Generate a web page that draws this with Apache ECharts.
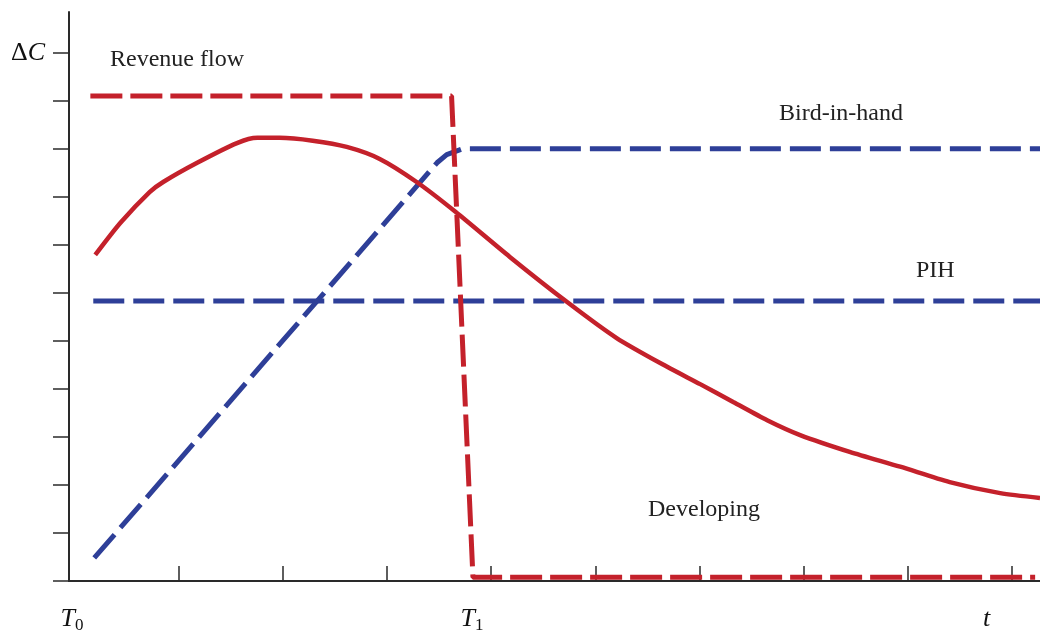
<!DOCTYPE html>
<html>
<head>
<meta charset="utf-8">
<script src="https://cdn.jsdelivr.net/npm/echarts@6/dist/echarts.min.js"></script>
<style>
  html, body { margin: 0; padding: 0; background: #fff; }
  #chart { width: 1040px; height: 631px; }
</style>
</head>
<body>
<div id="chart"></div>
<script>
// data ([t, deltaC])
const revenueFlow = [[2.2, 10.1], [39.4, 10.1], [41.6, 0.08], [99.5, 0.08]];
const birdInHand = [[2.6, 0.48], [37.9, 8.71], [38.9, 8.88], [40.5, 9.0], [100, 9.0]];
const pih = [[2.5, 5.83], [100, 5.83]];
const developing = [
  [2.7, 6.79], [5.3, 7.46], [8.3, 8.1], [9.7, 8.31], [13.2, 8.71], [17.3, 9.12],
  [19.4, 9.23], [21.7, 9.23], [25.1, 9.17], [28.6, 9.04], [32.0, 8.79], [35.8, 8.31],
  [39.8, 7.69], [45.4, 6.75], [51.3, 5.81], [56.4, 5.06], [61.6, 4.46], [65.0, 4.1],
  [68.4, 3.73], [71.9, 3.35], [75.3, 3.04], [80.4, 2.69], [85.6, 2.38], [90.7, 2.06],
  [95.9, 1.83], [100, 1.73]
];

// axis ticks and labels
const xTicks = [11.33, 22.04, 32.75, 43.46, 54.27, 64.98, 75.7, 86.41, 97.12];
const xLabelValues = [0.31, 41.5, 94.5];
const xLabels = ['{t|T}{s|0}', '{t|T}{s|1}', '{t|t}'];
const yTicks = [0, 1, 2, 3, 4, 5, 6, 7, 8, 9, 10, 11];
const yLabelValues = [11];
const yLabels = ['{d|Δ}{c|C}'];

const RED = '#C4212B';
const BLUE = '#2E3F98';
const AXIS = '#2a2a2a';
const SERIF = '"Liberation Serif", "DejaVu Serif", serif';

const chart = echarts.init(document.getElementById('chart'));

const notes = [
  { text: 'Revenue flow', x: 110, y: 61 },
  { text: 'Bird-in-hand', x: 779, y: 115 },
  { text: 'PIH', x: 916, y: 272 },
  { text: 'Developing', x: 648, y: 511 }
];

// pick the label text for a tick value
function labelFor(values, labels, v) {
  const i = values.findIndex(x => Math.abs(x - v) < 1e-6);
  return i < 0 ? '' : labels[i];
}

const option = {
  animation: false,
  grid: { left: 69, right: 0, top: 12, bottom: 50, outerBoundsMode: 'none', containLabel: false },
  xAxis: {
    type: 'value',
    min: 0,
    max: 100,
    splitLine: { show: false },
    axisLine: { lineStyle: { color: AXIS, width: 2 } },
    axisTick: {
      inside: true,
      length: 15,
      customValues: xTicks,
      lineStyle: { color: AXIS, width: 1.5 }
    },
    axisLabel: {
      show: true,
      customValues: xLabelValues,
      showMinLabel: true,
      showMaxLabel: true,
      hideOverlap: false,
      margin: 23,
      formatter: v => labelFor(xLabelValues, xLabels, v),
      rich: {
        t: { fontFamily: SERIF, fontStyle: 'italic', fontSize: 26, color: '#111', lineHeight: 30 },
        s: { fontFamily: SERIF, fontSize: 17, color: '#111', verticalAlign: 'bottom', lineHeight: 30, padding: [10, 0, 0, 0] }
      }
    }
  },
  yAxis: {
    type: 'value',
    min: 0,
    max: 11.85,
    splitLine: { show: false },
    axisLine: { lineStyle: { color: AXIS, width: 2 } },
    axisTick: {
      length: 16,
      customValues: yTicks,
      lineStyle: { color: AXIS, width: 1.5 }
    },
    axisLabel: {
      show: true,
      customValues: yLabelValues,
      margin: 24,
      formatter: v => labelFor(yLabelValues, yLabels, v),
      rich: {
        d: { fontFamily: SERIF, fontSize: 26, color: '#111' },
        c: { fontFamily: SERIF, fontStyle: 'italic', fontSize: 26, color: '#111' }
      }
    }
  },
  graphic: notes.map(n => ({
    type: 'text',
    left: n.x,
    top: n.y - 13,
    style: { text: n.text, fill: '#222', font: '24px ' + SERIF }
  })),
  series: [
    {
      type: 'line', name: 'PIH', data: pih, symbol: 'none',
      lineStyle: { color: BLUE, width: 5, type: [31, 9] }
    },
    {
      type: 'line', name: 'Bird-in-hand', data: birdInHand, symbol: 'none',
      lineStyle: { color: BLUE, width: 5, type: [31, 9] }
    },
    {
      type: 'line', name: 'Developing', data: developing, symbol: 'none', smooth: 0.25,
      lineStyle: { color: RED, width: 4.5 }
    },
    {
      type: 'line', name: 'Revenue flow', data: revenueFlow, symbol: 'none',
      lineStyle: { color: RED, width: 5, type: [32, 8] }
    }
  ]
};

chart.setOption(option);
</script>
</body>
</html>
